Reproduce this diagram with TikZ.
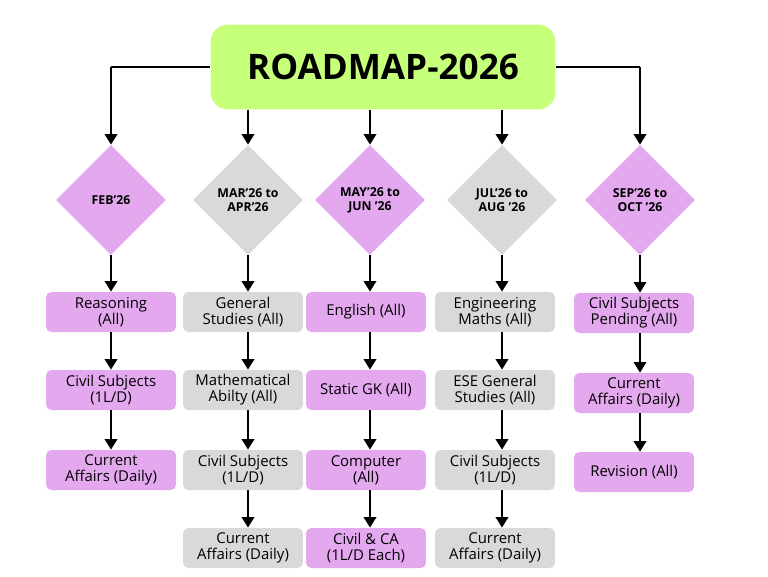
\documentclass[tikz,border=0pt]{standalone}
\usepackage{fontspec}
\setmainfont{Open Sans}
\usetikzlibrary{shapes.geometric, arrows.meta}

\definecolor{lime}{HTML}{C6FF7A}
\definecolor{violet}{HTML}{E4A8EF}
\definecolor{greybox}{HTML}{D9D9D9}

\tikzset{
  task/.style={rounded corners=3pt, minimum height=0.8cm, inner sep=1pt, align=center,
    font=\fontsize{8.5}{9}\selectfont},
  month/.style={diamond, minimum width=2.2cm, minimum height=2.2cm, inner sep=0pt,
    align=center, font=\bfseries\fontsize{7}{8}\selectfont},
  go/.style={-{Triangle[width=7pt,length=6pt]}, line width=1.4pt}
}

\begin{document}
\begin{tikzpicture}[x=0.02cm, y=-0.02cm]
            \useasboundingbox (0,0) rectangle (768,576);

            \node[fill=lime, rounded corners=10pt, minimum width=6.9cm, minimum height=1.7cm,
              font=\bfseries\fontsize{20}{22}\selectfont] (title) at (383,67) {ROADMAP-2026};

            % months
            \node[month, fill=violet] (m1) at (111,200) {FEB'26};
            \node[month, fill=greybox] (m2) at (248,200) {MAR'26 to\\APR'26};
            \node[month, fill=violet] (m3) at (370,200) {MAY'26 to\\JUN '26};
            \node[month, fill=greybox] (m4) at (502,200) {JUL'26 to\\AUG '26};
            \node[month, fill=violet] (m5) at (640,200) {SEP'26 to\\OCT '26};

            \coordinate (l) at (111,67);
            \coordinate (r) at (640,67);
            \draw[line width=1.4pt] (title.west) -- (l);
            \draw[go] (l) -- (m1.north);
            \draw[line width=1.4pt] (title.east) -- (r);
            \draw[go] (r) -- (m5.north);
            \draw[go] (title.south -| m2) -- (m2.north);
            \draw[go] (title.south -| m3) -- (m3.north);
            \draw[go] (title.south -| m4) -- (m4.north);

            % column 1
            \node[task, fill=violet, minimum width=2.6cm] (a1) at (111,312) {Reasoning\\(All)};
            \node[task, fill=violet, minimum width=2.6cm] (a2) at (111,390) {Civil Subjects\\(1L/D)};
            \node[task, fill=violet, minimum width=2.6cm] (a3) at (111,470) {Current\\Affairs (Daily)};

            % column 2
            \node[task, fill=greybox, minimum width=2.4cm] (b1) at (243,312) {General\\Studies (All)};
            \node[task, fill=greybox, minimum width=2.4cm] (b2) at (243,390) {Mathematical\\Abilty (All)};
            \node[task, fill=greybox, minimum width=2.4cm] (b3) at (243,470) {Civil Subjects\\(1L/D)};
            \node[task, fill=greybox, minimum width=2.4cm] (b4) at (243,548) {Current\\Affairs (Daily)};

            % column 3
            \node[task, fill=violet, minimum width=2.4cm] (c1) at (366,312) {English (All)};
            \node[task, fill=violet, minimum width=2.4cm] (c2) at (366,390) {Static GK (All)};
            \node[task, fill=violet, minimum width=2.4cm] (c3) at (366,470) {Computer\\(All)};
            \node[task, fill=violet, minimum width=2.4cm] (c4) at (366,548) {Civil \& CA\\(1L/D Each)};

            % column 4
            \node[task, fill=greybox, minimum width=2.4cm] (d1) at (495,312) {Engineering\\Maths (All)};
            \node[task, fill=greybox, minimum width=2.4cm] (d2) at (495,390) {ESE General\\Studies (All)};
            \node[task, fill=greybox, minimum width=2.4cm] (d3) at (495,470) {Civil Subjects\\(1L/D)};
            \node[task, fill=greybox, minimum width=2.4cm] (d4) at (495,548) {Current\\Affairs (Daily)};

            % column 5
            \node[task, fill=violet, minimum width=2.4cm] (e1) at (634,313) {Civil Subjects\\Pending (All)};
            \node[task, fill=violet, minimum width=2.4cm] (e2) at (634,393) {Current\\Affairs (Daily)};
            \node[task, fill=violet, minimum width=2.4cm] (e3) at (634,472) {Revision (All)};

            \draw[go] (m1.south) -- (m1.south |- a1.north);
            \draw[go] (a1.south -| m1) -- (a2.north -| m1);
            \draw[go] (a2.south -| m1) -- (a3.north -| m1);

            \draw[go] (m2.south) -- (m2.south |- b1.north);
            \draw[go] (b1.south -| m2) -- (b2.north -| m2);
            \draw[go] (b2.south -| m2) -- (b3.north -| m2);
            \draw[go] (b3.south -| m2) -- (b4.north -| m2);

            \draw[go] (m3.south) -- (m3.south |- c1.north);
            \draw[go] (c1.south -| m3) -- (c2.north -| m3);
            \draw[go] (c2.south -| m3) -- (c3.north -| m3);
            \draw[go] (c3.south -| m3) -- (c4.north -| m3);

            \draw[go] (m4.south) -- (m4.south |- d1.north);
            \draw[go] (d1.south -| m4) -- (d2.north -| m4);
            \draw[go] (d2.south -| m4) -- (d3.north -| m4);
            \draw[go] (d3.south -| m4) -- (d4.north -| m4);

            \draw[go] (m5.south) -- (m5.south |- e1.north);
            \draw[go] (e1.south -| m5) -- (e2.north -| m5);
            \draw[go] (e2.south -| m5) -- (e3.north -| m5);

        \end{tikzpicture}
\end{document}
